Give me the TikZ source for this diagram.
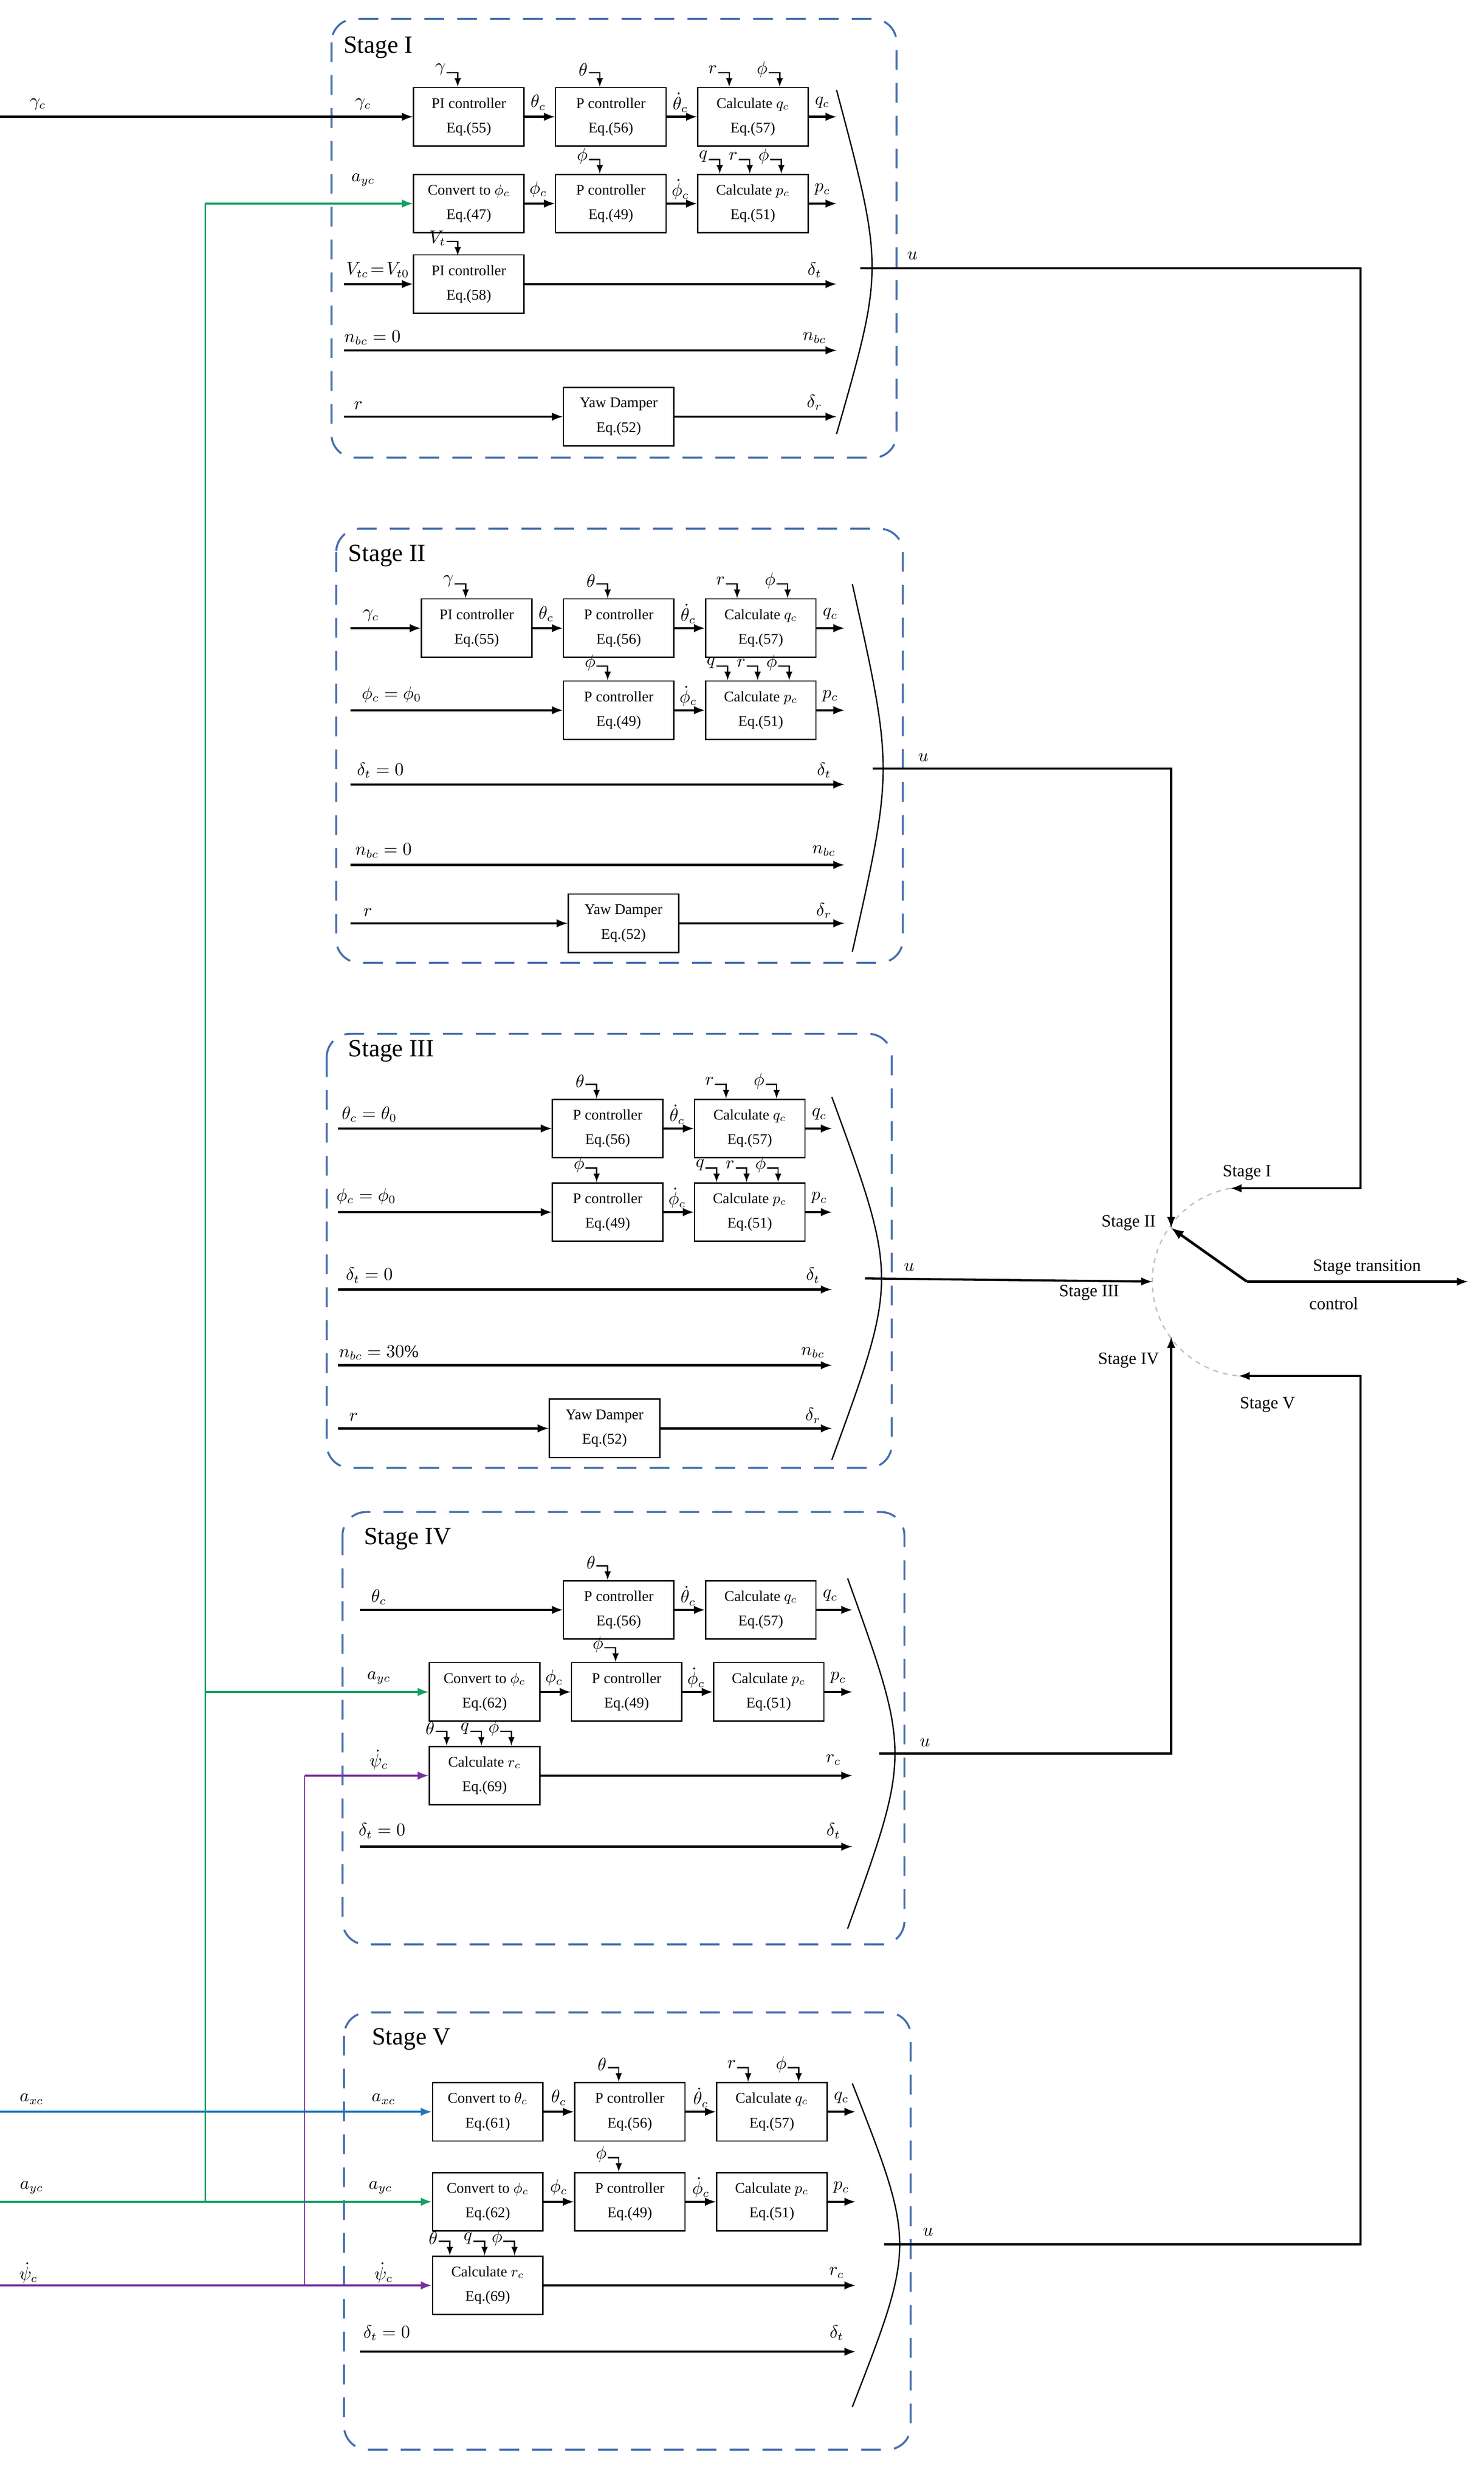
\documentclass[tikz,border=0pt]{standalone}
\usepackage{fontspec}
\setmainfont{Liberation Serif}
\usepackage{amsmath,amssymb}
\usetikzlibrary{arrows,positioning}
\definecolor{stgblue}{RGB}{70,110,175}
\definecolor{sgreen}{RGB}{20,160,100}
\definecolor{sblue}{RGB}{30,120,190}
\definecolor{spurple}{RGB}{120,50,160}
\tikzset{
  blk/.style={draw,thick,minimum width=2.36cm,minimum height=1.25cm,align=center,
    font=\fontsize{9}{15}\selectfont,inner sep=1pt},
  sig/.style={line width=1.3pt,-latex},
  fbs/.style={thick,-latex},
  lbl/.style={font=\fontsize{10.5}{11}\selectfont,inner sep=0.5pt},
  stg/.style={draw=stgblue,very thick,dash pattern=on 12pt off 8pt,rounded corners=0.5cm},
  ttl/.style={font=\fontsize{15}{15}\selectfont,anchor=west},
  brk/.style={thick}
}
% feedback hook: x, box top y, label
\newcommand{\fbk}[3]{\draw[fbs] (#1-7,#2-9) -- (#1,#2-9) -- (#1,#2);
  \node[lbl,anchor=east] at (#1-7,#2-11) {$#3$};}
\begin{document}
\begin{tikzpicture}[x=0.03373cm,y=-0.03373cm]
\useasboundingbox (0,0) rectangle (940,1577);

%% Stage I
\draw[stg] (210,12) rectangle (568,290);
\node[ttl] at (214,30) {Stage I};
\node[blk] (s1a) at (297,74) {PI controller\\Eq.(55)};
\node[blk] (s1b) at (387,74) {P controller\\Eq.(56)};
\node[blk] (s1c) at (477,74) {Calculate $q_c$\\Eq.(57)};
\node[blk] (s1d) at (297,129) {Convert to $\phi_c$\\Eq.(47)};
\node[blk] (s1e) at (387,129) {P controller\\Eq.(49)};
\node[blk] (s1f) at (477,129) {Calculate $p_c$\\Eq.(51)};
\node[blk] (s1g) at (297,180) {PI controller\\Eq.(58)};
\node[blk] (s1h) at (392,264) {Yaw Damper\\Eq.(52)};
\coordinate (s1i1) at (0,74); \coordinate (s1i3) at (218,180);
\coordinate (s1i4) at (218,222); \coordinate (s1i5) at (218,264);
\foreach \n/\y in {1/74,2/129,3/180,4/222,5/264} \coordinate (s1o\n) at (530,\y);
\draw[sig] (s1i1) -- (s1a); \draw[sig] (s1a) -- (s1b); \draw[sig] (s1b) -- (s1c); \draw[sig] (s1c) -- (s1o1);
\draw[sig] (s1d) -- (s1e); \draw[sig] (s1e) -- (s1f); \draw[sig] (s1f) -- (s1o2);
\draw[sig] (s1i3) -- (s1g); \draw[sig] (s1g) -- (s1o3);
\draw[sig] (s1i4) -- (s1o4);
\draw[sig] (s1i5) -- (s1h); \draw[sig] (s1h) -- (s1o5);
\fbk{290}{55}{\gamma} \fbk{380}{55}{\theta} \fbk{462}{55}{r} \fbk{494}{55}{\phi}
\fbk{380}{110}{\phi} \fbk{456}{110}{q} \fbk{475}{110}{r} \fbk{495}{110}{\phi}
\fbk{290}{162}{V_t}
\node[lbl] at (24,66) {$\gamma_c$}; \node[lbl] at (230,66) {$\gamma_c$};
\node[lbl] at (230,114) {$a_{yc}$};
\node[lbl,anchor=east] at (260,171) {$V_{tc}\!=\!V_{t0}$};
\node[lbl] at (236,214) {$n_{bc}=0$};
\node[lbl] at (227,257) {$r$};
\node[lbl] at (341,65) {$\theta_c$}; \node[lbl] at (431,65) {$\dot\theta_c$}; \node[lbl] at (521,65) {$q_c$};
\node[lbl] at (341,120) {$\phi_c$}; \node[lbl] at (431,120) {$\dot\phi_c$}; \node[lbl] at (521,120) {$p_c$};
\node[lbl] at (516,171) {$\delta_t$}; \node[lbl] at (516,214) {$n_{bc}$}; \node[lbl] at (516,255) {$\delta_r$};
\draw[brk] (530,57) .. controls (560,170) .. (530,275);
\coordinate (s1u) at (545,170);
\node[lbl] at (578,162) {$u$};

%% Stage II
\draw[stg] (213,335) rectangle (572,610);
\node[ttl] at (217,352) {Stage II};
\node[blk] (s2a) at (302,398) {PI controller\\Eq.(55)};
\node[blk] (s2b) at (392,398) {P controller\\Eq.(56)};
\node[blk] (s2c) at (482,398) {Calculate $q_c$\\Eq.(57)};
\node[blk] (s2e) at (392,450) {P controller\\Eq.(49)};
\node[blk] (s2f) at (482,450) {Calculate $p_c$\\Eq.(51)};
\node[blk] (s2h) at (395,585) {Yaw Damper\\Eq.(52)};
\foreach \n/\y in {1/398,2/450,3/497,4/548,5/585} {\coordinate (s2i\n) at (222,\y); \coordinate (s2o\n) at (535,\y);}
\draw[sig] (s2i1) -- (s2a); \draw[sig] (s2a) -- (s2b); \draw[sig] (s2b) -- (s2c); \draw[sig] (s2c) -- (s2o1);
\draw[sig] (s2i2) -- (s2e); \draw[sig] (s2e) -- (s2f); \draw[sig] (s2f) -- (s2o2);
\draw[sig] (s2i3) -- (s2o3); \draw[sig] (s2i4) -- (s2o4);
\draw[sig] (s2i5) -- (s2h); \draw[sig] (s2h) -- (s2o5);
\fbk{295}{379}{\gamma} \fbk{385}{379}{\theta} \fbk{467}{379}{r} \fbk{499}{379}{\phi}
\fbk{385}{431}{\phi} \fbk{461}{431}{q} \fbk{480}{431}{r} \fbk{500}{431}{\phi}
\node[lbl] at (235,390) {$\gamma_c$};
\node[lbl] at (248,440) {$\phi_c=\phi_0$};
\node[lbl] at (241,488) {$\delta_t=0$};
\node[lbl] at (243,539) {$n_{bc}=0$};
\node[lbl] at (233,578) {$r$};
\node[lbl] at (346,389) {$\theta_c$}; \node[lbl] at (436,389) {$\dot\theta_c$}; \node[lbl] at (526,389) {$q_c$};
\node[lbl] at (436,441) {$\dot\phi_c$}; \node[lbl] at (526,441) {$p_c$};
\node[lbl] at (522,488) {$\delta_t$}; \node[lbl] at (522,539) {$n_{bc}$}; \node[lbl] at (522,577) {$\delta_r$};
\draw[brk] (540,370) .. controls (566,487) .. (540,603);
\coordinate (s2u) at (553,487);
\node[lbl] at (585,480) {$u$};

%% Stage III
\draw[stg] (207,655) rectangle (565,930);
\node[ttl] at (217,666) {Stage III};
\node[blk] (s3b) at (385,715) {P controller\\Eq.(56)};
\node[blk] (s3c) at (475,715) {Calculate $q_c$\\Eq.(57)};
\node[blk] (s3e) at (385,768) {P controller\\Eq.(49)};
\node[blk] (s3f) at (475,768) {Calculate $p_c$\\Eq.(51)};
\node[blk] (s3h) at (383,905) {Yaw Damper\\Eq.(52)};
\foreach \n/\y in {1/715,2/768,3/817,4/865,5/905} {\coordinate (s3i\n) at (214,\y); \coordinate (s3o\n) at (527,\y);}
\draw[sig] (s3i1) -- (s3b); \draw[sig] (s3b) -- (s3c); \draw[sig] (s3c) -- (s3o1);
\draw[sig] (s3i2) -- (s3e); \draw[sig] (s3e) -- (s3f); \draw[sig] (s3f) -- (s3o2);
\draw[sig] (s3i3) -- (s3o3); \draw[sig] (s3i4) -- (s3o4);
\draw[sig] (s3i5) -- (s3h); \draw[sig] (s3h) -- (s3o5);
\fbk{378}{696}{\theta} \fbk{460}{696}{r} \fbk{492}{696}{\phi}
\fbk{378}{749}{\phi} \fbk{454}{749}{q} \fbk{473}{749}{r} \fbk{493}{749}{\phi}
\node[lbl] at (234,706) {$\theta_c=\theta_0$};
\node[lbl] at (232,758) {$\phi_c=\phi_0$};
\node[lbl] at (234,808) {$\delta_t=0$};
\node[lbl] at (240,857) {$n_{bc}=30\%$};
\node[lbl] at (224,898) {$r$};
\node[lbl] at (429,706) {$\dot\theta_c$}; \node[lbl] at (519,706) {$q_c$};
\node[lbl] at (429,759) {$\dot\phi_c$}; \node[lbl] at (519,759) {$p_c$};
\node[lbl] at (515,808) {$\delta_t$}; \node[lbl] at (515,857) {$n_{bc}$}; \node[lbl] at (515,897) {$\delta_r$};
\draw[brk] (527,695) .. controls (569,810) .. (527,925);
\coordinate (s3u) at (548,810);
\node[lbl] at (576,803) {$u$};

%% Stage IV
\draw[stg] (217,958) rectangle (573,1232);
\node[ttl] at (227,975) {Stage IV};
\node[blk] (s4b) at (392,1020) {P controller\\Eq.(56)};
\node[blk] (s4c) at (482,1020) {Calculate $q_c$\\Eq.(57)};
\node[blk] (s4d) at (307,1072) {Convert to $\phi_c$\\Eq.(62)};
\node[blk] (s4e) at (397,1072) {P controller\\Eq.(49)};
\node[blk] (s4f) at (487,1072) {Calculate $p_c$\\Eq.(51)};
\node[blk] (s4r) at (307,1125) {Calculate $r_c$\\Eq.(69)};
\foreach \n/\y in {1/1020,2/1072,3/1125,4/1170} {\coordinate (s4i\n) at (228,\y); \coordinate (s4o\n) at (540,\y);}
\draw[sig] (s4i1) -- (s4b); \draw[sig] (s4b) -- (s4c); \draw[sig] (s4c) -- (s4o1);
\draw[sig] (s4d) -- (s4e); \draw[sig] (s4e) -- (s4f); \draw[sig] (s4f) -- (s4o2);
\draw[sig] (s4r) -- (s4o3); \draw[sig] (s4i4) -- (s4o4);
\fbk{385}{1001}{\theta} \fbk{390}{1053}{\phi}
\fbk{283}{1106}{\theta} \fbk{305}{1106}{q} \fbk{324}{1106}{\phi}
\node[lbl] at (240,1012) {$\theta_c$};
\node[lbl] at (240,1063) {$a_{yc}$};
\node[lbl] at (240,1115) {$\dot\psi_c$};
\node[lbl] at (242,1160) {$\delta_t=0$};
\node[lbl] at (436,1011) {$\dot\theta_c$}; \node[lbl] at (526,1011) {$q_c$};
\node[lbl] at (351,1063) {$\phi_c$}; \node[lbl] at (441,1063) {$\dot\phi_c$}; \node[lbl] at (531,1063) {$p_c$};
\node[lbl] at (528,1115) {$r_c$}; \node[lbl] at (528,1160) {$\delta_t$};
\draw[brk] (537,1000) .. controls (577,1111) .. (537,1222);
\coordinate (s4u) at (557,1111);
\node[lbl] at (586,1104) {$u$};

%% Stage V
\draw[stg] (218,1275) rectangle (577,1552);
\node[ttl] at (232,1292) {Stage V};
\node[blk] (s5a) at (309,1338) {Convert to $\theta_c$\\Eq.(61)};
\node[blk] (s5b) at (399,1338) {P controller\\Eq.(56)};
\node[blk] (s5c) at (489,1338) {Calculate $q_c$\\Eq.(57)};
\node[blk] (s5d) at (309,1395) {Convert to $\phi_c$\\Eq.(62)};
\node[blk] (s5e) at (399,1395) {P controller\\Eq.(49)};
\node[blk] (s5f) at (489,1395) {Calculate $p_c$\\Eq.(51)};
\node[blk] (s5r) at (309,1448) {Calculate $r_c$\\Eq.(69)};
\foreach \n/\y in {1/1338,2/1395,3/1448,4/1490} {\coordinate (s5i\n) at (0,\y); \coordinate (s5o\n) at (542,\y);}
\coordinate (s5i4) at (228,1490);
\draw[sig,sblue] (s5i1) -- (s5a); \draw[sig] (s5a) -- (s5b); \draw[sig] (s5b) -- (s5c); \draw[sig] (s5c) -- (s5o1);
\draw[sig,sgreen] (s5i2) -- (s5d); \draw[sig] (s5d) -- (s5e); \draw[sig] (s5e) -- (s5f); \draw[sig] (s5f) -- (s5o2);
\draw[sig,spurple] (s5i3) -- (s5r); \draw[sig] (s5r) -- (s5o3);
\draw[sig] (s5i4) -- (s5o4);
\fbk{392}{1319}{\theta} \fbk{474}{1319}{r} \fbk{506}{1319}{\phi}
\fbk{392}{1376}{\phi}
\fbk{285}{1429}{\theta} \fbk{307}{1429}{q} \fbk{326}{1429}{\phi}
\node[lbl] at (20,1330) {$a_{xc}$}; \node[lbl] at (20,1386) {$a_{yc}$}; \node[lbl] at (18,1440) {$\dot\psi_c$};
\node[lbl] at (243,1330) {$a_{xc}$};
\node[lbl] at (241,1386) {$a_{yc}$};
\node[lbl] at (243,1440) {$\dot\psi_c$};
\node[lbl] at (245,1478) {$\delta_t=0$};
\node[lbl] at (354,1329) {$\theta_c$}; \node[lbl] at (444,1329) {$\dot\theta_c$}; \node[lbl] at (533,1329) {$q_c$};
\node[lbl] at (354,1386) {$\phi_c$}; \node[lbl] at (444,1386) {$\dot\phi_c$}; \node[lbl] at (533,1386) {$p_c$};
\node[lbl] at (530,1440) {$r_c$}; \node[lbl] at (530,1478) {$\delta_t$};
\draw[brk] (540,1320) .. controls (580,1422) .. (540,1525);
\coordinate (s5u) at (560,1422);
\node[lbl] at (588,1414) {$u$};

%% shared command lines
\coordinate (gtop) at (130,129); \coordinate (gmid) at (130,1072); \coordinate (gbot) at (130,1395);
\coordinate (ptop) at (193,1125); \coordinate (pbot) at (193,1448);
\draw[thick,sgreen] (gbot) -- (gtop);
\draw[sig,sgreen] (gtop) -- (s1d);
\draw[sig,sgreen] (gmid) -- (s4d);
\draw[thick,spurple] (pbot) -- (ptop);
\draw[sig,spurple] (ptop) -- (s4r);

%% stage transition switch
\coordinate (sw) at (790,812);
\coordinate (sI) at (779.6,752.9); \coordinate (sII) at (742,778);
\coordinate (sIII) at (730,812); \coordinate (sIV) at (742,847);
\coordinate (sV) at (784.8,871.8); \coordinate (swout) at (930,812);
\draw[gray!50,dashed,thick] (sI) arc[start angle=100,end angle=265,radius=2.024cm];
\draw[sig] (s1u) -- (862,170) |- (sI);
\draw[sig] (s2u) -| (sII);
\draw[sig] (s3u) -- (sIII);
\draw[sig] (s4u) -| (sIV);
\draw[sig] (s5u) -- (862,1422) |- (sV);
\draw[line width=1.6pt,-latex] (sw) -- (sII);
\draw[sig] (sw) -- (swout);
\node[lbl] at (790,743) {Stage I};
\node[lbl] at (715,775) {Stage II};
\node[lbl] at (690,819) {Stage III};
\node[lbl] at (715,862) {Stage IV};
\node[lbl] at (803,890) {Stage V};
\node[lbl] at (866,803) {Stage transition};
\node[lbl] at (845,826) {control};
\end{tikzpicture}
\end{document}
